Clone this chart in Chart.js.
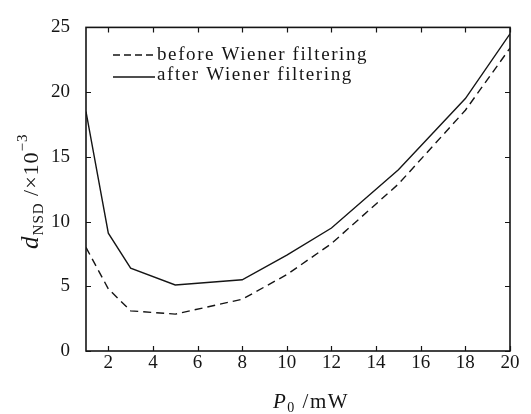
<!DOCTYPE html>
<html>
<head>
<meta charset="utf-8">
<script src="https://cdn.jsdelivr.net/npm/chart.js@4/dist/chart.umd.min.js"></script>
<style>
  html, body { margin: 0; padding: 0; background: #fff; }
  #wrap { width: 531px; height: 414px; position: relative; }
</style>
</head>
<body>
<div id="wrap"><canvas id="c"></canvas></div>
<script>
// P0 (mW) sample points
const powers = [1, 2, 3, 5, 8, 10, 12, 15, 18, 20];
// d_NSD x 10^-3
const beforeFilter = [8.0, 4.8, 3.1, 2.85, 4.0, 5.9, 8.3, 12.9, 18.6, 23.4];
const afterFilter  = [18.5, 9.1, 6.4, 5.1, 5.5, 7.4, 9.5, 14.0, 19.5, 24.5];
const xTicks = [2, 4, 6, 8, 10, 12, 14, 16, 18, 20];
const yTicks = [0, 5, 10, 15, 20, 25];
const seriesNames = ['before Wiener filtering', 'after Wiener filtering'];

const FONT = '"Liberation Serif", "Times New Roman", serif';
const INK = '#151515';

const frame = {
  id: 'frame',
  afterDraw(chart) {
    const { ctx, chartArea: a, scales } = chart;
    ctx.save();
    ctx.strokeStyle = INK;
    ctx.lineWidth = 1.6;
    ctx.strokeRect(a.left, a.top, a.right - a.left, a.bottom - a.top);

    // inward ticks on all four sides
    ctx.lineWidth = 1.2;
    const L = 5;
    ctx.beginPath();
    scales.x.ticks.forEach(t => {
      const px = Math.round(scales.x.getPixelForValue(t.value)) + 0.5;
      ctx.moveTo(px, a.bottom); ctx.lineTo(px, a.bottom - L);
      ctx.moveTo(px, a.top); ctx.lineTo(px, a.top + L);
    });
    scales.y.ticks.forEach(t => {
      const py = Math.round(scales.y.getPixelForValue(t.value)) + 0.5;
      ctx.moveTo(a.left, py); ctx.lineTo(a.left + L, py);
      ctx.moveTo(a.right, py); ctx.lineTo(a.right - L, py);
    });
    ctx.stroke();

    // legend inside the plot
    ctx.letterSpacing = '1.6px';
    ctx.font = '19px ' + FONT;
    ctx.fillStyle = INK;
    ctx.textBaseline = 'alphabetic';
    const rows = [{ y: 60, ly: 55, dash: [7, 4] }, { y: 80, ly: 77, dash: [] }];
    rows.forEach((r, i) => {
      ctx.setLineDash(r.dash);
      ctx.lineWidth = 1.4;
      ctx.beginPath();
      ctx.moveTo(113, r.ly); ctx.lineTo(155, r.ly);
      ctx.stroke();
      ctx.setLineDash([]);
      ctx.fillText(seriesNames[i], 157, r.y);
    });

    // x title: P0 /mW
    ctx.letterSpacing = '1.5px';
    const xt = [
      { s: 'P', f: 'italic 21px ' + FONT, dy: 0 },
      { s: '0', f: '14px ' + FONT, dy: 4 },
      { s: ' /mW', f: '21px ' + FONT, dy: 0 }
    ];
    drawRich(ctx, xt, (a.left + a.right) / 2 + 13, 408, 0);

    // y title: d_NSD /x10^-3 (rotated)
    ctx.letterSpacing = '1px';
    const yt = [
      { s: 'd', f: 'italic 25px ' + FONT, dy: 0 },
      { s: 'NSD', f: '15px ' + FONT, dy: 5 },
      { s: ' /×10', f: '22px ' + FONT, dy: 0 },
      { s: '−3', f: '15px ' + FONT, dy: -11 }
    ];
    drawRich(ctx, yt, 38, (a.top + a.bottom) / 2 + 2, -Math.PI / 2);
    ctx.restore();
  }
};

function drawRich(ctx, parts, cx, cy, rot) {
  let w = 0;
  parts.forEach(p => { ctx.font = p.f; p.w = ctx.measureText(p.s).width; w += p.w; });
  ctx.save();
  ctx.translate(cx, cy);
  ctx.rotate(rot);
  let x = -w / 2;
  parts.forEach(p => {
    ctx.font = p.f;
    ctx.textAlign = 'left';
    ctx.fillText(p.s, x, p.dy);
    x += p.w;
  });
  ctx.restore();
}

new Chart(document.getElementById('c'), {
  type: 'line',
  data: {
    datasets: [
      {
        label: seriesNames[0],
        data: powers.map((p, i) => ({ x: p, y: beforeFilter[i] })),
        borderColor: INK, borderWidth: 1.4, borderDash: [8, 5],
        pointRadius: 0, tension: 0, fill: false
      },
      {
        label: seriesNames[1],
        data: powers.map((p, i) => ({ x: p, y: afterFilter[i] })),
        borderColor: INK, borderWidth: 1.4,
        pointRadius: 0, tension: 0, fill: false
      }
    ]
  },
  options: {
    responsive: true,
    maintainAspectRatio: false,
    animation: false,
    layout: { padding: { top: 19, right: 21, left: 0, bottom: 0 } },
    plugins: { legend: { display: false }, tooltip: { enabled: false } },
    scales: {
      x: {
        type: 'linear', min: 1, max: 20,
        afterBuildTicks(s) { s.ticks = xTicks.map(v => ({ value: v })); },
        afterFit(s) { s.height = 63; },
        grid: { display: false, drawTicks: false },
        border: { display: false },
        ticks: { color: INK, font: { family: FONT, size: 19 }, padding: 1, maxRotation: 0, autoSkip: false }
      },
      y: {
        type: 'linear', min: 0, max: 25,
        afterBuildTicks(s) { s.ticks = yTicks.map(v => ({ value: v })); },
        afterFit(s) { s.width = 86; },
        grid: { display: false, drawTicks: false },
        border: { display: false },
        ticks: { color: INK, font: { family: FONT, size: 19 }, padding: 16 }
      }
    }
  },
  plugins: [frame]
});
</script>
</body>
</html>
